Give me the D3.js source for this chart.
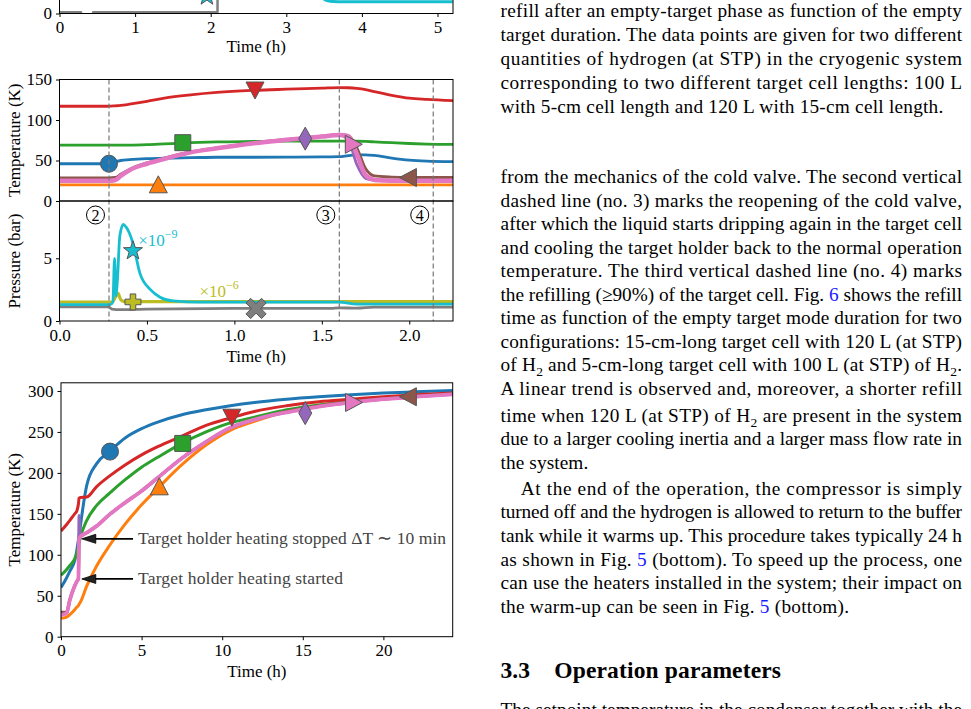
<!DOCTYPE html>
<html>
<head>
<meta charset="utf-8">
<script src="https://cdn.jsdelivr.net/npm/d3@7"></script>
<style>
  body { margin: 0; background: #fff; }
  svg { display: block; }
  svg text { font-family: "Liberation Serif", Tinos, "Times New Roman", Times, serif; }
</style>
</head>
<body>
<svg id="page" width="971" height="709"></svg>
<script>
// ---------- data ----------
// top strip (only the bottom of that panel is visible)
var topTicks = [0, 1, 2, 3, 4, 5];
var topGrayT = [0, 0.29, 0.3, 0.43, 0.44, 1.0, 2.09, 2.1];
var topGrayV = [0.1, 0.1, -1, -1, 0.1, 0.1, 0.1, 20];
var topCyanT = [3.3, 3.45, 3.5, 3.55, 3.62, 3.75, 5.2];
var topCyanV = [3.0, 1.6, 1.2, 1.05, 1.0, 0.98, 0.98];
var topStar = [1.95, 1.45];

// middle panel, temperatures (K) vs time (h)
var tMid = [0, 0.28, 0.32, 0.35, 0.4, 0.5, 0.6, 0.75, 0.9, 1.1, 1.3, 1.5, 1.6, 1.65, 1.7, 1.75, 1.8, 1.9, 2.0, 2.1, 2.25];
var midBlue   = [46, 46, 48.5, 50, 51, 52.3, 53, 53.5, 54, 54, 54.2, 54.5, 54.8, 56, 57, 57, 56.3, 53, 50.5, 49.2, 48.5];
var midOrange = [20, 20, 20, 20, 20, 20, 20, 20, 20, 20, 20, 20, 20, 20, 20, 20, 20, 20, 20, 20, 20];
var midGreen  = [69, 69, 69, 69, 69, 69.5, 70.5, 72, 73, 73.5, 73.8, 74, 74, 74, 73.8, 73.5, 73, 72, 71, 70.3, 69.8];
var midRed    = [117, 117, 117.5, 118, 119.5, 123, 127, 131, 134, 136.5, 138, 139.3, 140, 139.8, 139, 137.5, 135, 130.5, 127, 125.5, 124];
var midPurple = [25, 25, 26, 31, 38, 46, 52, 60, 65, 71, 75.5, 79.5, 81.5, 76, 45, 28, 26, 25.5, 25.5, 25.5, 25.5];
var midBrown  = [28.5, 28.5, 29, 33, 39, 47, 53, 60.5, 65.5, 71.5, 76, 80, 81.8, 81, 66, 40, 31, 29.5, 29, 29, 29];
var midPink   = [25, 25, 26, 31, 38, 46, 52, 60, 65, 71, 75.5, 79.5, 81.5, 80, 58, 32, 26, 25, 25, 25, 25];
var midMarkers = [[0.283, 46], [0.565, 20], [0.705, 72], [1.118, 137], [1.405, 77], [1.995, 29], [1.68, 70]];

// middle panel, pressures (bar, scaled) vs time (h)
var tCyan = [0, 0.29, 0.305, 0.315, 0.322, 0.33, 0.345, 0.365, 0.38, 0.4, 0.42, 0.46, 0.52, 0.575, 0.65, 0.8, 1.0, 1.5, 1.6, 1.7, 2.25];
var pCyan = [1.3, 1.3, 1.5, 5.0, 2.0, 3.0, 6.8, 7.7, 7.5, 7.0, 6.2, 3.8, 2.5, 1.9, 1.6, 1.5, 1.5, 1.5, 1.5, 1.35, 1.35];
var tOlive = [0, 0.3, 0.32, 0.335, 0.35, 0.37, 0.5, 1.0, 1.6, 2.25];
var pOlive = [1.5, 1.5, 1.9, 2.2, 1.7, 1.55, 1.55, 1.55, 1.55, 1.55];
var tGray = [0, 0.28, 0.3, 0.35, 0.5, 1.0, 1.55, 1.6, 1.7, 1.8, 2.25];
var pGray = [1.12, 1.12, 0.95, 0.9, 0.95, 1.0, 1.0, 1.05, 1.02, 1.1, 1.1];
var pressMarkers = [[0.42, 5.6], [0.42, 1.52], [1.124, 1.0]];
var dashedT = [0.283, 1.6, 2.137];
var dashedLabels = ["2", "3", "4"];

// bottom panel, warm-up temperatures (K) vs time (h)
var tBot = [0, 0.35, 0.55, 0.85, 0.97, 1.08, 1.12, 1.2, 1.6, 2.2, 3, 4, 5, 6, 7.5, 9, 10.5, 12, 14, 16, 18, 20, 22, 24.3];
var botBlue   = [60, 72, 80, 93, 104, 118, 123, 135, 185, 211, 226, 243, 254, 262, 271, 277, 282, 286, 290, 293, 295.5, 297.5, 299, 300.5];
var botOrange = [22.5, 24, 27, 33, 36, 38, 39.5, 42, 62, 86, 111, 138, 161, 181, 210, 234, 252, 263, 275, 282, 288, 291.5, 294, 296];
var botGreen  = [75, 82, 87, 95, 101, 110, 114, 121, 142, 160, 175, 192, 207, 219, 236, 250, 261, 268, 277, 283, 287, 291, 294, 296.5];
var botRed    = [129, 137, 142, 150, 153, 162, 169, 170, 170.5, 183, 196, 210, 222, 232, 245, 258, 267, 275, 282, 287, 290, 293, 295.5, 297.5];
var botPurple = [26.5, 29, 45, 62, 67, 71, 148, 123, 127, 135, 149, 164, 178, 194, 218, 238, 255, 265, 274, 281, 286, 290, 293, 296];
var botBrown  = [30, 30, 45, 62, 67, 71, 120, 122, 127, 135, 149, 164, 178, 194, 218, 238, 255, 265, 275, 282, 287, 290.5, 293.5, 296.5];
var botPink   = [26.5, 29, 45, 62, 67, 71, 120, 122, 127, 135, 149, 164, 178, 194, 218, 238, 255, 265, 274, 281, 286, 290, 293, 296];
var botMarkers = [[3.04, 226], [6.1, 183], [7.55, 236], [10.6, 268], [15.15, 273], [21.55, 293], [18.15, 286]];
var botNotes = [
  { text: "Target holder heating stopped \u0394T \u223C 10 min", tip: [1.29, 119.5], at: [4.78, 119.5], width: 308 },
  { text: "Target holder heating started", tip: [1.29, 70.5], at: [4.78, 70.5], width: 205 }
];

var colors  = ["#1f77b4", "#ff7f0e", "#2ca02c", "#d62728", "#9467bd", "#8c564b", "#e377c2"];
var symbols = ["o", "^", "s", "v", "d", "<", ">"];

// ---------- page text (right column) ----------
var captionLines = [
  "refill after an empty-target phase as function of the empty",
  "target duration. The data points are given for two different",
  "quantities of hydrogen (at STP) in the cryogenic system",
  "corresponding to two different target cell lengths:  100 L",
  "with 5-cm cell length and 120 L with 15-cm cell length."
];
var bodyLines = [
  "from the mechanics of the cold valve. The second vertical",
  "dashed line (no. 3) marks the reopening of the cold valve,",
  "after which the liquid starts dripping again in the target cell",
  "and cooling the target holder back to the normal operation",
  "temperature. The third vertical dashed line (no. 4) marks",
  "the refilling (\u226590%) of the target cell. Fig. [6] shows the refill",
  "time as function of the empty target mode duration for two",
  "configurations: 15-cm-long target cell with 120 L (at STP)",
  "of H_2 and 5-cm-long target cell with 100 L (at STP) of H_2.",
  "A linear trend is observed and, moreover, a shorter refill",
  "time when 120 L (at STP) of H_2 are present in the system",
  "due to a larger cooling inertia and a larger mass flow rate in",
  "the system.",
  "At the end of the operation, the compressor is simply",
  "turned off and the hydrogen is allowed to return to the buffer",
  "tank while it warms up. This procedure takes typically 24 h",
  "as shown in Fig. [5] (bottom). To speed up the process, one",
  "can use the heaters installed in the system; their impact on",
  "the warm-up can be seen in Fig. [5] (bottom)."
];
var lastLine = "The setpoint temperature in the condenser together with the";

// ---------- drawing ----------
var svg = d3.select("#page");
var clipId = 0;

function zip(t, v) { return t.map(function (d, i) { return [d, v[i]]; }); }

function plusPts(h, a) {
  return [[-a,-h],[a,-h],[a,-a],[h,-a],[h,a],[a,a],[a,h],[-a,h],[-a,a],[-h,a],[-h,-a],[-a,-a]];
}
function markerPath(type) {
  var pts;
  if (type === "o") {
    var r = 8.5;
    return "M" + r + ",0A" + r + "," + r + " 0 1,1 " + (-r) + ",0A" + r + "," + r + " 0 1,1 " + r + ",0Z";
  }
  if (type === "s") pts = [[-8,-8],[8,-8],[8,8],[-8,8]];
  if (type === "^") pts = [[0,-9],[9,8],[-9,8]];
  if (type === "v") pts = [[0,9],[9,-8],[-9,-8]];
  if (type === ">") pts = [[9,0],[-8,-9],[-8,9]];
  if (type === "<") pts = [[-9,0],[8,-9],[8,9]];
  if (type === "d") pts = [[0,-11.5],[6.5,0],[0,11.5],[-6.5,0]];
  if (type === "P") pts = plusPts(8, 2.8);
  if (type === "X") pts = plusPts(11, 3.3).map(function (p) {
    var c = Math.SQRT1_2; return [(p[0] - p[1]) * c, (p[0] + p[1]) * c];
  });
  if (type === "*") {
    pts = [];
    for (var i = 0; i < 10; i++) {
      var ang = -Math.PI / 2 + i * Math.PI / 5, rr = i % 2 ? 4 : 10;
      pts.push([rr * Math.cos(ang), rr * Math.sin(ang)]);
    }
  }
  return "M" + pts.map(function (p) { return p[0].toFixed(2) + "," + p[1].toFixed(2); }).join("L") + "Z";
}

function clipFor(x, y) {
  var id = "clip" + (clipId++);
  var x0 = x.range()[0], x1 = x.range()[1], y0 = y.range()[1], y1 = y.range()[0];
  svg.append("clipPath").attr("id", id).append("rect")
    .attr("x", x0).attr("y", y0).attr("width", x1 - x0).attr("height", y1 - y0);
  return "url(#" + id + ")";
}

function drawLine(g, x, y, data, color, width) {
  var line = d3.line().x(function (d) { return x(d[0]); }).y(function (d) { return y(d[1]); })
    .curve(d3.curveMonotoneX);
  g.append("path").datum(data).attr("d", line).attr("fill", "none")
    .attr("stroke", color).attr("stroke-width", width).attr("stroke-linejoin", "round");
}

function drawMarker(g, x, y, p, type, color) {
  g.append("path").attr("d", markerPath(type))
    .attr("transform", "translate(" + x(p[0]) + "," + y(p[1]) + ")")
    .attr("fill", color).attr("stroke", "#555").attr("stroke-width", 1);
}

function xAxis(x, yPix, ticks, fmt) {
  var ax = svg.append("g").attr("transform", "translate(0," + yPix + ")")
    .call(d3.axisBottom(x).tickValues(ticks).tickSize(3.5).tickSizeOuter(0).tickPadding(4).tickFormat(fmt));
  ax.select(".domain").remove();
  ax.attr("font-size", 17).attr("font-family", null);
  ax.selectAll("line").attr("stroke", "#000").attr("stroke-width", 1);
  ax.selectAll("text").attr("fill", "#000");
}
function yAxis(y, xPix, ticks) {
  var ax = svg.append("g").attr("transform", "translate(" + xPix + ",0)")
    .call(d3.axisLeft(y).tickValues(ticks).tickSize(3.5).tickSizeOuter(0).tickPadding(4).tickFormat(d3.format("d")));
  ax.select(".domain").remove();
  ax.attr("font-size", 17).attr("font-family", null);
  ax.selectAll("line").attr("stroke", "#000").attr("stroke-width", 1);
  ax.selectAll("text").attr("fill", "#000");
}
function frame(x, y) {
  var x0 = x.range()[0], x1 = x.range()[1], y0 = y.range()[1], y1 = y.range()[0];
  svg.append("rect").attr("x", x0).attr("y", y0).attr("width", x1 - x0).attr("height", y1 - y0)
    .attr("fill", "none").attr("stroke", "#000").attr("stroke-width", 1);
}
function xLabel(x, base) {
  svg.append("text").attr("x", (x.range()[0] + x.range()[1]) / 2).attr("y", base)
    .attr("text-anchor", "middle").attr("font-size", 17).text("Time (h)");
}
function yLabel(y, label) {
  var cy = (y.range()[0] + y.range()[1]) / 2;
  svg.append("text").attr("transform", "translate(20," + cy + ") rotate(-90)")
    .attr("text-anchor", "middle").attr("font-size", 17).text(label);
}

// ---- top strip ----
var xTop = d3.scaleLinear().domain([0, 5.205]).range([59.5, 453]);
var yTop = d3.scaleLinear().domain([0, 10]).range([13.5, -106.5]);
var gTop = svg.append("g").attr("clip-path", clipFor(xTop, yTop));
drawLine(gTop, xTop, yTop, zip(topGrayT, topGrayV), "#7f7f7f", 2.5);
drawLine(gTop, xTop, yTop, zip(topCyanT, topCyanV), "#17becf", 3);
drawMarker(gTop, xTop, yTop, topStar, "*", "#17becf");
frame(xTop, yTop);
xAxis(xTop, 13.5, topTicks, d3.format("d"));
yAxis(yTop, 59.5, [0]);
xLabel(xTop, 52);

// ---- middle panel ----
var xMid = d3.scaleLinear().domain([0, 2.25]).range([59.5, 453]);
var yT = d3.scaleLinear().domain([0, 150]).range([201, 79.5]);
var yP = d3.scaleLinear().domain([0, 9.57]).range([321, 201]);

var gT = svg.append("g").attr("clip-path", clipFor(xMid, yT));
var midSeries = [midBlue, midOrange, midGreen, midRed, midPurple, midBrown, midPink];
midSeries.forEach(function (s, i) {
  drawLine(gT, xMid, yT, zip(tMid, s), colors[i], i === 6 ? 4.5 : 2.8);
});
midMarkers.forEach(function (p, i) { drawMarker(gT, xMid, yT, p, symbols[i], colors[i]); });

var gP = svg.append("g").attr("clip-path", clipFor(xMid, yP));
drawLine(gP, xMid, yP, zip(tGray, pGray), "#7f7f7f", 2.8);
drawLine(gP, xMid, yP, zip(tOlive, pOlive), "#bcbd22", 3.2);
drawLine(gP, xMid, yP, zip(tCyan, pCyan), "#17becf", 2.8);
drawMarker(gP, xMid, yP, pressMarkers[0], "*", "#17becf");
drawMarker(gP, xMid, yP, pressMarkers[1], "P", "#bcbd22");
drawMarker(gP, xMid, yP, pressMarkers[2], "X", "#7f7f7f");

// scale factor labels
function factorLabel(xp, yp, exp, color) {
  var t = svg.append("text").attr("x", xp).attr("y", yp).attr("font-size", 17).attr("fill", color);
  t.append("tspan").text("\u00D710");
  t.append("tspan").attr("dy", -8).attr("font-size", 12).text("\u2212" + exp);
}
factorLabel(xMid(0.45), yP(6.0), "9", "#17becf");
factorLabel(xMid(0.80), yP(1.95), "6", "#bcbd22");

// dashed markers of the phases
dashedT.forEach(function (t, i) {
  svg.append("line").attr("x1", xMid(t)).attr("x2", xMid(t)).attr("y1", 79.5).attr("y2", 321)
    .attr("stroke", "#777").attr("stroke-width", 1.2).attr("stroke-dasharray", "5,3");
  var cx = xMid(t) - 13.5, cy = 215;
  svg.append("circle").attr("cx", cx).attr("cy", cy).attr("r", 9)
    .attr("fill", "none").attr("stroke", "#000").attr("stroke-width", 1);
  svg.append("text").attr("x", cx).attr("y", cy + 5.5).attr("text-anchor", "middle")
    .attr("font-size", 16).text(dashedLabels[i]);
});

frame(xMid, yT);
frame(xMid, yP);
yAxis(yT, 59.5, [0, 50, 100, 150]);
yAxis(yP, 59.5, [0, 5]);
xAxis(xMid, 321, [0, 0.5, 1.0, 1.5, 2.0], d3.format(".1f"));
xLabel(xMid, 362);
yLabel(yT, "Temperature (K)");
yLabel(yP, "Pressure (bar)");

// ---- bottom panel ----
var xBot = d3.scaleLinear().domain([0, 24.3]).range([61, 452.7]);
var yBot = d3.scaleLinear().domain([0, 310]).range([636.7, 382.8]);
var gB = svg.append("g").attr("clip-path", clipFor(xBot, yBot));
var botSeries = [botBlue, botOrange, botGreen, botRed, botPurple, botBrown, botPink];
botSeries.forEach(function (s, i) {
  drawLine(gB, xBot, yBot, zip(tBot, s), colors[i], i === 6 ? 3.8 : 3);
});
botMarkers.forEach(function (p, i) { drawMarker(gB, xBot, yBot, p, symbols[i], colors[i]); });

botNotes.forEach(function (n) {
  var tx = xBot(n.tip[0]), ty = yBot(n.tip[1]);
  var sx = xBot(n.at[0]) - 5;
  svg.append("line").attr("x1", sx).attr("x2", tx + 12).attr("y1", ty).attr("y2", ty)
    .attr("stroke", "#000").attr("stroke-width", 1.8);
  svg.append("path").attr("d", "M" + tx + "," + ty + "L" + (tx + 14) + "," + (ty - 4.5) + "L" + (tx + 14) + "," + (ty + 4.5) + "Z")
    .attr("fill", "#222").attr("stroke", "#000").attr("stroke-width", 0.8);
  svg.append("text").attr("x", xBot(n.at[0])).attr("y", yBot(n.at[1]) + 5.5)
    .attr("font-size", 17.5).attr("fill", "#444")
    .attr("textLength", n.width).attr("lengthAdjust", "spacing").text(n.text);
});

frame(xBot, yBot);
yAxis(yBot, 61, [0, 50, 100, 150, 200, 250, 300]);
xAxis(xBot, 636.7, [0, 5, 10, 15, 20], d3.format("d"));
xLabel(xBot, 677);
yLabel(yBot, "Temperature (K)");

// ---- right column text ----
function textLine(str, x, base, width, size, weight) {
  var t = svg.append("text").attr("x", x).attr("y", base).attr("font-size", size || 19.3).attr("fill", "#000");
  if (weight) t.attr("font-weight", weight);
  if (width) t.attr("textLength", width).attr("lengthAdjust", "spacing");
  var shift = 0;
  str.split(/(\[\d\]|_2)/).forEach(function (part) {
    if (!part) return;
    var s;
    if (part === "_2") {
      s = t.append("tspan").attr("dy", 4.5).attr("font-size", 13.5).text("2");
      shift = -4.5;
      return;
    }
    if (/^\[\d\]$/.test(part)) {
      s = t.append("tspan").attr("fill", "#1a1aff").text(part.slice(1, 2));
    } else {
      s = t.append("tspan").text(part);
    }
    if (shift) { s.attr("dy", shift); shift = 0; }
  });
}
var L = 500.5, FULL = 461.5;
var capBase = [17, 41, 65, 89, 113];
captionLines.forEach(function (s, i) {
  textLine(s, L, capBase[i], i === 4 ? 442.8 : FULL);
});
var bodyBase = [183, 206.5, 230, 253.5, 277, 300.5, 324, 347.5, 371, 394.5, 422, 445, 468.5, 494.5, 518, 541.5, 565.5, 589, 612.5];
bodyLines.forEach(function (s, i) {
  var x = i === 13 ? 520.7 : L;
  var w = i === 12 ? 87.8 : i === 13 ? 441.3 : i === 18 ? 348.5 : FULL;
  textLine(s, x, bodyBase[i], w);
});
textLine("3.3", L, 678, null, 23.5, "bold");
textLine("Operation parameters", 554.3, 678, 226.7, 23.5, "bold");
textLine(lastLine, L, 716, FULL);
</script>
</body>
</html>
